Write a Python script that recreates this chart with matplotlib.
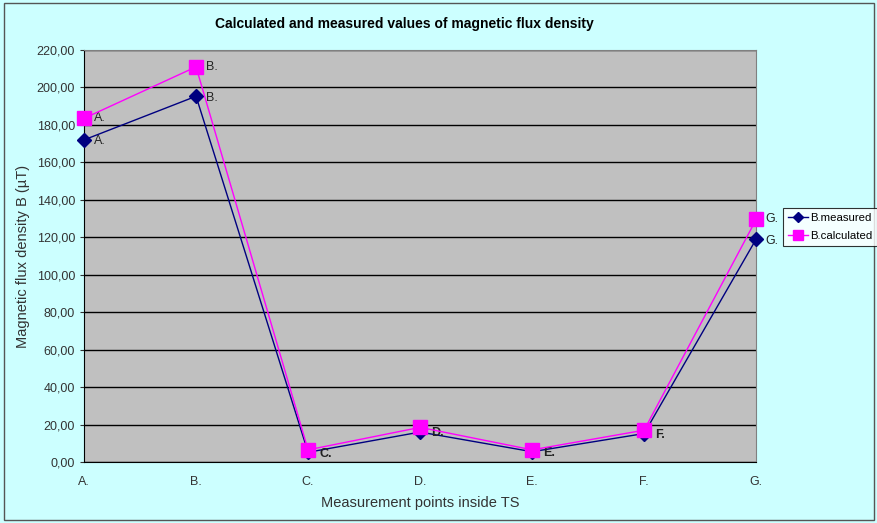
import numpy as np
from matplotlib import pyplot as plt
from matplotlib.ticker import FuncFormatter

plt.rcParams['font.family'] = ['Liberation Sans', 'DejaVu Sans']

points = ['A.', 'B.', 'C.', 'D.', 'E.', 'F.', 'G.']
b_measured = [172.0, 195.3, 5.2, 16.0, 5.5, 15.2, 119.0]
b_calculated = [183.5, 211.0, 6.5, 18.5, 6.5, 17.0, 129.5]

fig = plt.figure(figsize=(8.78, 5.23), dpi=100, facecolor='#CCFFFF')
ax = fig.add_axes([0.0957, 0.1166, 0.7655, 0.7878])
ax.set_facecolor('#C0C0C0')

x = np.arange(len(points))
ax.plot(x, b_measured, '-D', color='#000080', lw=1, ms=7, label='B.measured',
        zorder=3, clip_on=False)
ax.plot(x, b_calculated, '-s', color='#FF00FF', lw=1, ms=10, label='B.calculated',
        zorder=4, clip_on=False)

# labels next to points; where the two series nearly coincide, the reference
# shows one label drawn twice, so draw it once in bold
for xi, v, w, lab in zip(x, b_measured, b_calculated, points):
    if w - v > 8:
        ax.annotate(lab, (xi, v), xytext=(7, -1), textcoords='offset points',
                    va='center', fontsize=9, color='#222222')
        ax.annotate(lab, (xi, w), xytext=(7, 0), textcoords='offset points',
                    va='center', fontsize=9, color='#222222')
    else:
        ax.annotate(lab, (xi, v), xytext=(8, -1), textcoords='offset points',
                    va='center', fontsize=9, color='#222222', fontweight='bold')

ax.set_xlim(0, 6)
ax.set_ylim(0, 220)
ax.set_yticks(np.arange(0, 221, 20))
ax.yaxis.set_major_formatter(FuncFormatter(lambda v, p: f'{v:.2f}'.replace('.', ',')))
ax.set_xticks(x)
ax.set_xticklabels(points)
ax.grid(axis='y', color='black', lw=1)
ax.set_axisbelow(True)
ax.tick_params(labelsize=9, colors='#333333', length=3)
ax.tick_params(axis='x', length=0, pad=10)
for s in ['top', 'right']:
    ax.spines[s].set_color('#808080')
for s in ['left', 'bottom']:
    ax.spines[s].set_color('black')

ax.set_xlabel('Measurement points inside TS', fontsize=10.5, color='#333333', labelpad=6)
ax.set_ylabel('Magnetic flux density B (\u00b5T)', fontsize=10.5, color='#333333', labelpad=5)
fig.text(0.46, 0.955, 'Calculated and measured values of magnetic flux density',
         ha='center', va='center', fontsize=10, fontweight='bold')

leg = fig.legend(loc='upper left', bbox_to_anchor=(0.892, 0.603), fontsize=8.2,
                 frameon=True, fancybox=False, edgecolor='black', borderpad=0.45,
                 borderaxespad=0.0, handlelength=1.7, handletextpad=0.2,
                 labelspacing=0.75, markerscale=0.75)
leg.get_frame().set_linewidth(0.8)

border = plt.Rectangle((0.005, 0.005), 0.99, 0.99, transform=fig.transFigure,
                       fill=False, edgecolor='#555555', lw=1)
fig.add_artist(border)

fig.savefig('out.png', dpi=100, facecolor=fig.get_facecolor())
